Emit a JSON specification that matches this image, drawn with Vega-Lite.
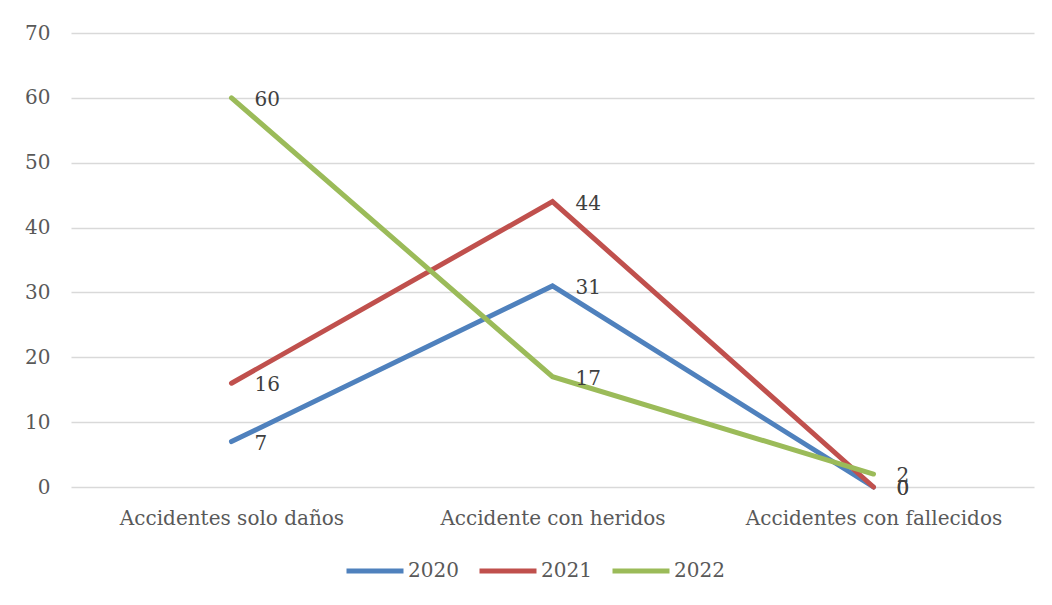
{
  "$schema": "https://vega.github.io/schema/vega-lite/v6.json",
  "width": 963,
  "height": 454,
  "autosize": {"type": "none"},
  "padding": {"left": 71, "top": 33, "right": 18, "bottom": 118},
  "background": "white",
  "config": {
    "view": {"stroke": null},
    "font": "DejaVu Serif",
    "axis": {"labelFont": "DejaVu Serif", "labelColor": "#595959", "labelFontSize": 20, "labelLimit": 0},
    "legend": {"labelFont": "DejaVu Serif", "labelColor": "#595959", "labelFontSize": 20, "labelLimit": 0}
  },
  "data": {
    "values": [
      {"cat": "Accidentes solo daños", "year": "2020", "value": 7},
      {"cat": "Accidente con heridos", "year": "2020", "value": 31},
      {"cat": "Accidentes con fallecidos", "year": "2020", "value": 0},
      {"cat": "Accidentes solo daños", "year": "2021", "value": 16},
      {"cat": "Accidente con heridos", "year": "2021", "value": 44},
      {"cat": "Accidentes con fallecidos", "year": "2021", "value": 0},
      {"cat": "Accidentes solo daños", "year": "2022", "value": 60},
      {"cat": "Accidente con heridos", "year": "2022", "value": 17},
      {"cat": "Accidentes con fallecidos", "year": "2022", "value": 2}
    ]
  },
  "encoding": {
    "x": {
      "field": "cat", "type": "nominal", "sort": null,
      "scale": {"type": "point", "padding": 0.5},
      "axis": {"title": null, "labelAngle": 0, "ticks": false, "domain": false, "labelPadding": 21, "grid": false}
    },
    "y": {
      "field": "value", "type": "quantitative",
      "scale": {"domain": [0, 70]},
      "axis": {"title": null, "values": [0,10,20,30,40,50,60,70], "ticks": false, "domain": false, "labelPadding": 21, "gridColor": "#D9D9D9", "gridWidth": 1.5}
    },
    "color": {
      "field": "year", "type": "nominal",
      "scale": {"domain": ["2020", "2021", "2022"], "range": ["#4F81BD", "#C0504D", "#9BBB59"]},
      "legend": {"title": null, "orient": "none", "direction": "horizontal", "legendX": 273, "legendY": 507, "symbolType": "stroke", "symbolSize": 3249, "symbolStrokeWidth": 5, "columnPadding": 10, "labelOffset": 2}
    }
  },
  "layer": [
    {"mark": {"type": "line", "strokeWidth": 5, "strokeCap": "round"}},
    {"mark": {"type": "text", "align": "left", "baseline": "middle", "dx": 23, "dy": 2, "fontSize": 20}, "encoding": {"text": {"field": "value", "type": "quantitative"}, "color": {"value": "#404040"}}}
  ]
}
